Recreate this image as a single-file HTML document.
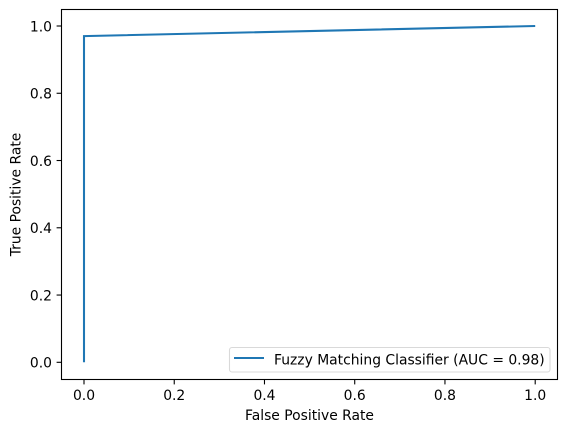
<!DOCTYPE html>
<html lang="en">
<head>
<meta charset="utf-8">
<title>ROC Curve</title>
<style>
html,body{margin:0;padding:0;background:#fff;width:567px;height:432px;overflow:hidden}
svg{display:block}
text{font-family:"DejaVu Sans",sans-serif;font-size:13.89px;fill:#000}
</style>
</head>
<body>
<svg id="chart" xmlns="http://www.w3.org/2000/svg" width="567" height="432" viewBox="0 0 567 432">
  <rect x="0" y="0" width="567" height="432" fill="#fff"/>
  <g id="ticks"></g>
  <path id="roc" fill="none" stroke="#1f77b4" stroke-width="2.08" stroke-linejoin="miter" stroke-linecap="butt"/>
  <rect x="61.5" y="9.5" width="496" height="370" fill="none" stroke="#000" stroke-width="1.1"/>
  <g>
    <rect x="229.5" y="347.5" width="320.5" height="24.5" rx="2.5" ry="2.5" fill="#fff" fill-opacity="0.8" stroke="#d9d9d9" stroke-width="1.1"/>
    <line x1="234" y1="358" x2="264" y2="358" stroke="#1f77b4" stroke-width="2.08"/>
    <text x="274" y="364.5">Fuzzy Matching Classifier (AUC = 0.98)</text>
  </g>
  <text x="309.5" y="420" text-anchor="middle">False Positive Rate</text>
  <text transform="translate(20.5 194.5) rotate(-90)" text-anchor="middle">True Positive Rate</text>
</svg>
<script>
const fpr = [0, 0, 1];
const tpr = [0, 0.97, 1];
const xTickValues = [0, 0.2, 0.4, 0.6, 0.8, 1];
const yTickValues = [0, 0.2, 0.4, 0.6, 0.8, 1];
const xTickLabels = ['0.0', '0.2', '0.4', '0.6', '0.8', '1.0'];
const yTickLabels = ['0.0', '0.2', '0.4', '0.6', '0.8', '1.0'];

const NS = 'http://www.w3.org/2000/svg';
function xScale(v) { return 84 + v * 451.2; }
function yScale(v) { return 362.3 - v * 336.3; }

const ticksGroup = document.getElementById('ticks');

xTickValues.forEach(function (v, i) {
  const px = xScale(v);
  const tick = document.createElementNS(NS, 'line');
  
  
  tick.setAttribute('x1', px);
  tick.setAttribute('x2', px);
  tick.setAttribute('y1', 379.5);
  tick.setAttribute('y2', 384.4);
  tick.setAttribute('stroke', '#000');
  tick.setAttribute('stroke-width', '1.1');
  ticksGroup.appendChild(tick);
  const label = document.createElementNS(NS, 'text');
  
  
  label.setAttribute('x', px);
  label.setAttribute('y', 400);
  label.setAttribute('text-anchor', 'middle');
  label.textContent = xTickLabels[i];
  ticksGroup.appendChild(label);
});

yTickValues.forEach(function (v, i) {
  const py = yScale(v);
  const tick = document.createElementNS(NS, 'line');
  
  
  tick.setAttribute('x1', 56.6);
  tick.setAttribute('x2', 61.5);
  tick.setAttribute('y1', py);
  tick.setAttribute('y2', py);
  tick.setAttribute('stroke', '#000');
  tick.setAttribute('stroke-width', '1.1');
  ticksGroup.appendChild(tick);
  const label = document.createElementNS(NS, 'text');
  
  
  label.setAttribute('x', 52);
  label.setAttribute('y', py + 5.3);
  label.setAttribute('text-anchor', 'end');
  label.textContent = yTickLabels[i];
  ticksGroup.appendChild(label);
});

document.getElementById('roc').setAttribute('d', fpr.map(function (v, i) {
  return (i ? 'L' : 'M') + xScale(v) + ' ' + yScale(tpr[i]);
}).join(' '));
</script>
</body>
</html>
